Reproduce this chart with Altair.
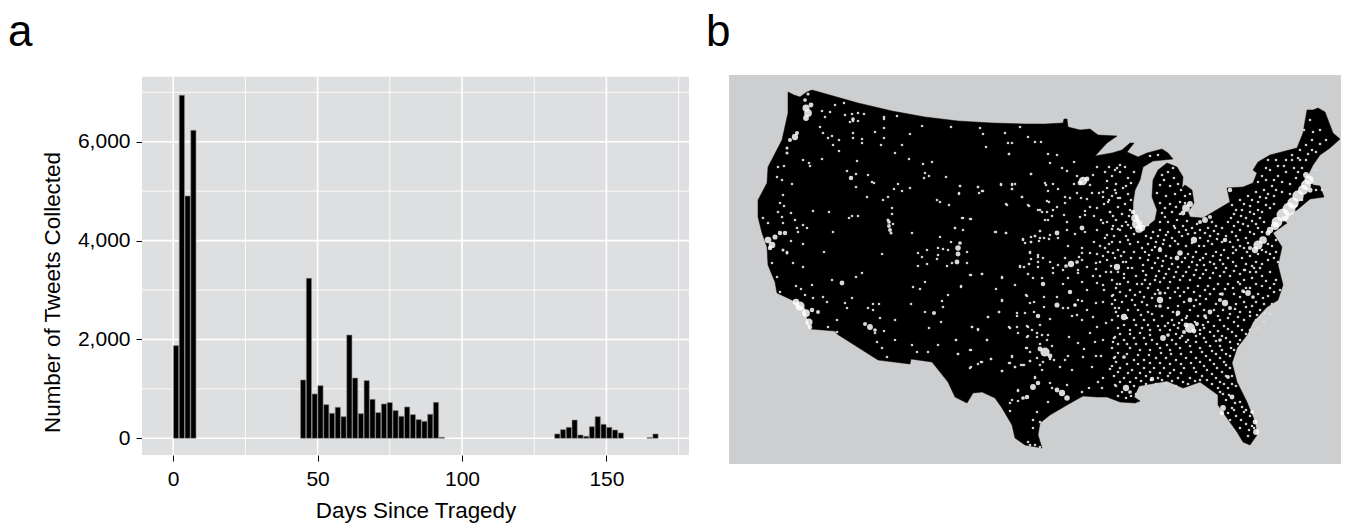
import altair as alt
import pandas as pd

FONT = "Liberation Sans"

# ---- panel a: tweets per two-day bin
bin_width = 2
bar_inset = 0.1
bin_start = [0, 2, 4, 6,
             44, 46, 48, 50, 52, 54, 56, 58, 60, 62, 64, 66, 68, 70, 72, 74, 76, 78, 80, 82, 84, 86, 88, 90, 92,
             132, 134, 136, 138, 140, 142, 144, 146, 148, 150, 152, 154, 164, 166]
tweets = [1875, 6939, 4902, 6230,
          1180, 3237, 897, 1065, 681, 506, 627, 438, 2090, 1220, 499, 1167, 789, 519, 695, 722, 560, 445, 634, 479, 378, 344, 486, 728, 20,
          88, 175, 222, 370, 67, 40, 236, 438, 283, 222, 168, 108, 15, 88]
x_major = [0, 50, 100, 150]
x_minor = [25, 75, 125, 175]
y_major = [0, 2000, 4000, 6000]
y_minor = [1000, 3000, 5000, 7000]
x_limits = [-10.8, 178.6]
y_limits = [-338, 7315]

# ---- panel b: outline of the map, in map units
outline = [
    (788,92),(794,95),(800,97),(804,94),(807,92),(812,90),(858,103),(892,111),(925,117),(958,121),(992,123),(1025,124),(1045,124),
    (1063,123),(1064,119),(1067,119),(1068,127),(1080,130),(1090,129),(1098,135),(1117,136),(1107,143),(1095,156),(1112,153),
    (1122,150),(1130,143),(1134,143),(1127,152),(1138,157),(1147,153),(1162,149),(1168,153),(1173,159),(1163,160),(1153,161),
    (1143,167),(1140,180),(1135,190),(1133,203),(1133,213),(1137,225),(1145,228),(1155,220),(1157,210),(1152,197),(1153,180),
    (1158,170),(1167,163),(1177,167),(1183,177),(1182,188),(1178,192),(1185,185),(1192,190),(1194,203),(1188,212),(1190,217),
    (1203,218),(1213,212),(1230,202),(1227,188),(1243,187),(1253,183),(1257,173),(1253,170),(1258,162),(1270,155),(1297,148),
    (1303,133),(1307,110),(1313,110),(1318,108),(1325,112),(1333,133),(1340,139),(1330,148),(1320,155),(1313,165),(1307,177),
    (1313,185),(1320,186),(1324,197),(1310,199),(1297,210),(1280,218),(1287,223),(1273,233),(1282,247),(1278,265),(1283,285),
    (1278,300),(1267,307),(1253,322),(1247,335),(1237,348),(1232,363),(1237,382),(1247,402),(1255,422),(1257,435),(1250,445),
    (1243,442),(1237,432),(1227,418),(1218,405),(1218,395),(1207,387),(1200,382),(1183,388),(1167,381),(1150,384),(1139,386),
    (1134,397),(1140,401),(1135,403),(1120,402),(1107,397),(1097,397),(1083,396),(1067,405),(1050,415),(1040,423),(1038,435),
    (1042,448),(1025,445),(1015,438),(1012,425),(1002,408),(995,398),(982,392),(973,393),(967,403),(955,397),(948,382),(932,362),
    (911,359),(910,364),(878,360),(837,334),(835,331),(811,329),(808,322),(805,308),(792,300),(777,293),(775,282),(768,265),
    (767,247),(762,233),(758,217),(758,200),(767,183),(768,167),(782,140),(788,113),(788,92),
]

west_dots = [
    (825,117),(822,111),(830,112),(835,105),(844,103),(845,115),(852,114),(853,121),(850,122),(858,121),(858,113),(864,114),(884,117),(884,119),(897,116),
    (922,126),(951,127),(980,128),(983,134),(1005,133),(1020,127),(1028,137),(1035,142),(1041,142),(820,127),(823,133),(832,136),(828,138),(833,145),(839,140),
    (839,151),(853,133),(853,138),(862,139),(862,143),(875,132),(884,128),(884,138),(881,145),(902,145),(910,134),(895,153),(909,159),(932,162),(923,164),
    (986,147),(1008,143),(1012,143),(1009,154),(803,160),(809,163),(810,166),(822,159),(857,161),(847,171),(856,174),(856,187),(868,175),(872,182),(874,183),
    (925,173),(929,176),(924,178),(946,177),(898,184),(894,189),(902,191),(910,188),(960,186),(959,194),(978,187),(982,191),(979,193),(1001,185),(1012,185),
    (1012,189),(1031,174),(1022,197),(1007,205),(1028,205),(1038,210),(1042,212),(778,167),(784,166),(777,177),(782,180),(792,184),(783,195),(780,203),(784,206),
    (778,212),(782,217),(791,213),(795,220),(813,211),(829,212),(867,197),(888,197),(883,200),(937,200),(940,202),(949,205),(892,208),(892,214),(852,216),
    (849,218),(858,216),(962,218),(970,219),(763,218),(768,223),(783,223),(797,228),(803,225),(798,232),(807,228),(833,232),(893,224),(912,233),(955,228),
    (995,232),(1006,233),(1023,239),(1031,242),(1040,231),(1035,236),(1040,238),(803,244),(791,241),(787,252),(824,252),(882,254),(918,253),(922,257),(927,250),
    (938,248),(940,237),(951,242),(943,249),(948,250),(938,255),(937,259),(967,252),(927,264),(918,266),(947,266),(952,263),(967,263),(1020,267),(1029,264),
    (1038,262),(1030,253),(1038,255),(793,263),(803,267),(772,263),
    (777,277),(780,292),(796,286),(801,289),(812,285),(805,295),(813,298),(823,297),(827,302),(832,280),(856,277),(862,273),(852,298),(845,303),(847,308),
    (837,320),(828,327),(837,332),(868,308),(873,304),(879,304),(873,310),(880,318),(895,320),(875,333),(884,331),(877,342),(882,348),(895,340),(887,357),
    (912,345),(917,352),(928,352),(938,345),(925,312),(941,322),(929,328),(911,304),(942,301),(943,307),(948,295),(925,282),(913,287),(920,289),(961,287),
    (972,327),(978,330),(956,340),(971,350),(958,354),(987,340),(981,362),(978,364),(991,359),(971,367),(1002,371),(988,317),(999,312),(1009,327),(1017,316),
    (1027,326),(1027,337),(1037,337),(1027,348),(1012,357),(1009,363),(1015,367),(1023,365),(1030,361),(1035,377),(1002,301),(1015,285),(1027,296),(996,289),
    (1002,278),(970,275),(982,274),(1010,411),(1018,391),(1012,400),(1037,412),(1033,420),(1033,428),(1040,422),(1028,442),(1035,445),(1040,447),(1030,445),
]

central_dots = [
    (1009,154),(1048,154),(1057,155),(1050,163),(1074,162),(1062,168),(1067,171),(1031,174),(1097,167),(1109,167),(1117,168),(960,186),(959,193),(978,187),
    (983,191),(1001,184),(1012,184),(1015,184),(1012,189),(1045,183),(1046,185),(1053,184),(1058,189),(1048,191),(1022,197),(1006,204),(1029,206),(1047,201),
    (1049,202),(1065,203),(1070,198),(1065,197),(1077,193),(1081,198),(1087,199),(1092,193),(1099,193),(1103,192),(1103,197),(1115,190),(1108,202),(1118,198),
    (1090,207),(1097,208),(1085,211),(1057,207),(1053,210),(1040,210),(1047,212),(1052,216),(1048,220),(1045,220),(1064,215),(1085,215),(1094,216),(1110,212),
    (1113,216),(1101,220),(1103,223),(1107,222),(1067,222),(1080,217),(963,218),(971,219),(955,228),(963,230),(996,232),(1006,233),(1040,231),(1050,235),
    (1044,238),(1049,239),(1058,238),(1067,230),(1075,234),(1085,232),(1097,230),(1107,235),(1105,238),(1112,229),(1118,229),(1112,242),(1094,242),(1023,240),
    (1031,237),(1035,236),(1031,242),(1039,241),(1025,243),(1068,246),(1082,248),(1090,253),(1082,253),(1097,254),(1030,252),(1038,257),(1031,259),(1043,258),
    (1050,262),(1038,267),(1029,264),(1020,266),(1024,267),(1028,274),(971,275),(982,274),(1002,277),(1058,265),(1053,268),(1082,260),(1087,267),(1096,263),
    (1096,269),(1078,273),(1068,278),(1093,276),(1033,278),(1042,278),(1053,273),(1107,260),(1113,253),(1105,248),(1118,250),
    (961,286),(1002,300),(1026,295),(988,317),(999,312),(972,327),(978,329),(956,340),(987,340),(970,350),(958,354),(982,362),(991,359),(970,368),(1002,371),
    (1010,328),(1017,313),(1025,313),(1030,303),(1034,302),(1034,312),(1044,307),(1044,297),(1050,319),(1017,327),(1018,333),(1028,327),(1032,330),(1028,336),
    (1040,325),(1037,333),(1042,335),(1048,335),(1047,340),(1026,348),(1012,356),(1010,363),(1015,367),(1021,365),(1024,365),(1030,361),(1050,359),(1040,365),
    (1042,370),(1060,367),(1069,337),(1078,343),(1084,349),(1065,360),(1068,356),(1083,357),(1072,370),(1092,367),(1110,369),(1096,356),(1101,356),(1095,342),
    (1103,340),(1113,342),(1090,333),(1097,327),(1093,317),(1106,323),(1115,337),(1115,357),(1063,308),(1068,308),(1077,315),(1082,320),(1087,310),(1072,316),
    (1103,302),(1096,303),(1087,290),(1063,284),(1078,300),(1075,305),(1082,301),(1057,297),(1082,282),(1113,295),(1115,308),(1097,283),(1103,285),(1117,284),
    (1018,390),(1018,401),(1010,403),(1035,378),(1050,383),(1052,388),(1067,385),(1082,392),(1089,388),(1103,378),(1098,382),(1115,385),(1102,388),(1048,402),
]

northeast_dots = [
    (1150,156),(1158,155),(1120,165),(1105,172),(1112,176),(1120,172),(1128,178),(1116,184),(1123,188),(1131,183),(1107,188),(1112,196),(1120,198),(1128,194),
    (1104,204),(1118,207),(1125,204),(1131,200),(1110,212),(1122,214),(1130,210),(1116,220),(1126,222),(1162,175),(1168,172),(1174,178),(1160,185),(1170,186),
    (1178,184),(1157,193),(1166,196),(1175,194),(1160,203),(1170,204),(1180,202),(1185,196),(1190,194),(1162,213),(1172,212),(1180,214),(1160,222),(1168,222),
    (1177,220),(1192,214),(1146,236),(1153,232),(1160,230),(1168,232),(1175,228),(1183,226),(1192,228),(1200,230),(1208,228),(1216,226),(1148,244),(1156,242),
    (1164,240),(1172,238),(1182,236),(1188,234),(1200,238),(1210,236),(1218,234),(1145,252),(1152,250),(1160,248),(1170,246),(1178,244),(1186,246),(1204,246),
    (1212,244),(1222,242),(1148,260),(1158,258),(1166,256),(1188,254),(1196,252),(1206,254),(1216,252),(1224,250),(1152,268),(1162,266),(1172,264),(1182,262),
    (1192,262),(1200,260),(1210,262),(1220,260),(1228,258),(1146,275),(1156,276),(1166,274),(1176,272),(1186,272),(1196,270),(1206,270),(1216,268),(1226,268),
    (1236,266),(1142,284),(1150,284),(1160,282),(1170,282),(1180,280),(1190,280),(1200,278),(1210,278),(1220,276),(1230,276),(1240,274),(1250,272),(1260,268),
    (1120,230),(1126,236),(1134,234),(1120,242),(1130,244),(1138,242),(1124,252),(1134,252),(1140,258),(1126,262),(1132,268),(1124,274),(1136,276),(1100,246),
    (1108,252),(1100,262),(1106,272),(1100,276),(1112,280),(1120,284),(1128,282),(1104,290),(1232,205),(1240,200),(1248,196),(1256,192),(1264,190),(1272,186),
    (1262,176),(1270,170),(1278,166),(1286,160),(1268,160),(1278,176),(1286,172),(1294,168),(1300,160),(1296,178),(1290,184),(1234,214),(1242,210),(1250,206),
    (1258,202),(1266,198),(1274,196),(1282,192),(1290,194),(1228,222),(1238,222),(1246,218),(1254,214),(1262,212),(1270,208),(1232,232),(1240,230),(1248,226),
    (1256,224),(1264,222),(1230,242),(1238,240),(1246,238),(1254,234),(1262,232),(1236,250),(1244,248),(1242,258),(1250,256),(1258,254),(1266,252),(1272,246),
    (1276,240),(1268,260),(1274,258),(1246,264),(1256,262),(1244,280),(1252,278),(1262,276),(1270,272),(1276,280),(1270,288),(1280,290),(1262,286),(1250,288),
    (1240,284),(1304,130),(1312,140),(1320,144),(1312,150),(1300,150),(1292,155),(1306,160),(1316,170),(1322,190),(1316,190),(1302,200),(1296,206),
]

southeast_dots = [
    (1112,296),(1120,292),(1130,290),(1140,292),(1148,288),(1158,290),(1168,288),(1178,288),(1188,288),(1198,286),(1208,286),(1218,284),(1228,284),(1238,282),
    (1112,304),(1122,302),(1132,300),(1142,302),(1152,298),(1170,298),(1180,296),(1200,296),(1210,294),(1220,294),(1234,294),(1258,294),(1268,296),
    (1116,312),(1128,310),(1138,310),(1148,312),(1168,308),(1178,306),(1190,310),(1200,304),(1216,304),(1236,304),(1244,302),(1256,302),(1264,304),(1272,304),
    (1112,320),(1134,320),(1144,320),(1154,320),(1162,316),(1172,320),(1182,320),(1198,316),(1206,318),(1218,316),(1230,314),(1240,312),(1250,312),(1260,310),(1270,314),
    (1118,328),(1130,330),(1142,328),(1150,330),(1158,326),(1170,330),(1178,328),(1204,328),(1214,326),(1224,326),(1234,322),(1244,320),(1256,320),(1264,322),
    (1114,338),(1124,340),(1134,338),(1144,338),(1152,340),(1172,340),(1180,338),(1204,338),(1214,336),(1222,336),(1232,332),(1242,330),(1250,330),(1258,328),
    (1112,348),(1130,348),(1140,350),(1150,350),(1160,348),(1170,350),(1180,348),(1190,346),(1200,348),(1210,346),(1220,346),(1230,342),(1240,340),(1246,334),
    (1114,358),(1134,360),(1144,360),(1156,358),(1166,358),(1176,360),(1186,358),(1196,358),(1206,356),(1216,354),(1226,354),(1234,350),(1238,344),
    (1112,366),(1120,368),(1132,370),(1144,368),(1154,368),(1164,368),(1174,370),(1184,368),(1194,368),(1204,366),(1214,364),(1224,362),(1230,356),
    (1114,376),(1124,378),(1136,378),(1146,376),(1158,378),(1168,376),(1178,378),(1190,378),(1202,376),(1212,374),(1222,372),(1230,368),
    (1116,386),(1134,386),(1146,384),(1156,384),(1166,384),(1176,386),(1188,384),(1200,380),(1212,384),(1220,382),(1232,376),
    (1118,396),(1126,398),(1136,394),(1220,392),(1228,388),(1236,386),(1226,400),(1232,408),(1240,402),(1236,416),(1244,412),(1230,420),(1246,424),(1240,428),(1250,416),(1252,426),(1248,436),
]

# a second, irregular pass over the dense eastern half
infill_dots = [
    (1107,181),(1115,170),(1125,167),(1134,172),(1109,200),(1116,193),(1126,186),(1113,226),(1122,226),(1129,216),(1164,180),(1173,168),(1181,190),(1165,208),(1176,207),
    (1185,203),(1165,217),(1174,226),(1187,221),(1197,224),(1212,222),(1151,238),(1158,236),(1166,235),(1179,232),(1186,230),(1195,233),(1205,233),(1214,231),(1222,228),
    (1142,248),(1149,255),(1155,247),(1163,244),(1175,241),(1192,243),(1199,246),(1208,241),(1217,239),(1226,236),(1143,265),(1155,263),(1163,261),(1171,258),(1185,258),
    (1193,257),(1203,258),(1213,256),(1221,255),(1233,253),(1143,271),(1159,271),(1169,269),(1178,267),(1189,267),(1197,265),(1204,265),(1214,264),(1223,264),(1233,262),
    (1145,280),(1155,280),(1164,278),(1174,277),(1183,276),(1194,275),(1203,274),(1213,273),(1224,272),(1234,271),(1245,270),(1254,268),(1103,256),(1115,258),(1111,266),
    (1121,256),(1118,272),(1128,268),(1116,288),(1124,278),(1137,284),(1131,258),(1128,240),(1114,236),(1109,244),(1236,210),(1244,204),(1252,200),(1260,197),(1268,194),
    (1276,190),(1258,182),(1266,180),(1274,180),(1282,182),(1266,168),(1276,160),(1284,166),(1292,160),(1298,172),(1302,168),(1231,218),(1241,216),(1250,212),(1258,210),
    (1266,205),(1274,204),(1234,226),(1243,224),(1252,221),(1260,218),(1236,236),(1250,232),(1258,228),(1233,247),(1240,246),(1248,243),(1247,252),(1262,250),(1268,244),
    (1270,254),(1276,252),(1278,262),(1252,266),(1262,264),(1244,270),(1256,272),(1266,281),(1256,284),(1246,288),(1274,292),(1274,284),(1306,145),(1316,152),(1298,158),
    (1313,132),(1320,130),(1310,120),(1308,154),(1326,140),(1115,300),(1126,296),(1135,295),(1144,297),(1155,294),(1165,293),(1175,292),(1184,292),(1194,292),(1205,290),
    (1214,289),(1225,289),(1233,288),(1244,292),(1119,308),(1135,305),(1147,305),(1156,306),(1173,312),(1184,302),(1196,300),(1206,299),(1214,310),(1240,297),(1252,306),
    (1263,298),(1118,316),(1127,318),(1141,315),(1152,314),(1168,323),(1177,315),(1187,316),(1194,306),(1204,310),(1223,310),(1235,309),(1246,307),(1257,315),(1265,313),
    (1124,325),(1136,325),(1148,325),(1165,326),(1174,325),(1208,322),(1220,320),(1228,318),(1238,317),(1250,316),(1120,334),(1130,334),(1140,333),(1150,335),(1160,330),
    (1176,334),(1200,334),(1210,332),(1218,331),(1228,329),(1238,326),(1118,344),(1127,344),(1136,344),(1146,344),(1157,344),(1167,345),(1176,344),(1186,342),(1196,342),
    (1206,342),(1216,341),(1226,338),(1236,336),(1118,353),(1127,354),(1138,355),(1149,355),(1161,353),(1171,354),(1181,354),(1191,352),(1202,352),(1212,351),(1222,350),
    (1231,348),(1116,362),(1127,364),(1138,364),(1150,363),(1160,363),(1170,364),(1181,364),(1191,363),(1200,362),(1210,360),(1220,358),(1118,372),(1128,373),(1140,373),
    (1150,372),(1160,373),(1170,373),(1181,373),(1196,372),(1207,370),(1217,368),(1226,365),(1120,382),(1130,382),(1141,381),(1151,380),(1162,380),(1172,381),(1183,382),
    (1195,381),(1207,380),(1216,378),(1226,376),(1122,392),(1131,396),(1218,388),(1224,384),(1232,384),(1223,394),(1229,395),(1235,403),(1242,407),(1228,413),(1234,410),
    (1241,420),(1249,430),(1254,428),(1246,410),
    (1186,318),(1195,322),(1200,330),(1182,336),(1188,340),(1196,336),(1179,323),(1203,325),(1040,344),(1037,358),(1052,346),(1054,360),(1030,352),(1043,362),(1128,225),
    (1142,222),(1131,228),(1148,225),(1077,176),(1090,185),(1074,184),(1093,175),(1065,258),(1078,270),(1123,262),(1111,272),(1063,270),(1079,257),
]

# city clusters: x, y, weight
hubs = [
    (806,108,50),(808,113,60),(806,118,34),(811,105,24),(805,100,14),(808,94,10),(795,137,40),(790,140,16),(797,133,16),(787,148,10),(787,153,10),(853,119,14),
    (851,178,20),(889,222,14),(889,226,15),(890,230,15),(888,220,10),(891,233,10),(768,240,44),(772,245,44),(775,237,26),(785,233,20),(780,233,20),(770,248,20),
    (783,250,10),(787,253,10),(800,306,85),(806,313,60),(796,302,40),(812,310,20),(818,312,15),(809,322,50),(810,327,20),(842,283,24),(870,327,34),(865,324,16),
    (875,330,14),(934,313,16),(958,248,30),(958,254,24),(957,262,24),(960,243,14),(1045,352,85),(1040,349,24),(1050,356,24),(1033,387,34),(1027,397,20),(1038,383,20),
    (1023,398,14),(1062,393,40),(1067,398,30),(1057,390,24),(1038,316,20),(1057,305,26),(1075,305,14),(1070,292,20),(1043,284,20),(1083,181,70),(1080,183,24),
    (1087,179,24),(1071,264,40),(1066,266,14),(1077,262,14),(1117,267,40),(1057,233,24),(1082,228,24),(1137,224,100),(1135,218,60),(1139,229,60),(1142,228,40),(1133,212,20),
    (1186,208,60),(1190,204,34),(1183,213,24),(1205,220,34),(1210,217,16),(1200,222,16),(1194,240,40),(1180,253,30),(1177,258,24),(1160,250,20),(1230,190,20),(1225,240,20),
    (1258,245,85),(1263,240,60),(1255,250,40),(1268,233,26),(1250,248,16),(1277,222,115),(1283,215,165),(1289,209,165),(1293,203,130),(1298,196,130),(1303,190,100),
    (1306,185,100),(1309,180,85),(1306,175,34),(1310,190,26),(1275,226,65),(1270,230,40),(1190,328,100),(1186,325,24),(1194,331,24),(1184,332,16),(1197,324,16),
    (1225,303,40),(1220,300,16),(1230,308,16),(1248,293,34),(1243,291,14),(1253,297,14),(1160,300,40),(1160,293,14),(1160,306,14),(1124,317,40),(1163,338,34),(1168,335,14),
    (1178,313,24),(1210,312,24),(1205,316,14),(1190,300,24),(1124,357,14),(1126,388,40),(1130,392,14),(1223,408,34),(1222,413,20),(1232,397,24),(1228,377,15),(1152,379,20),
    (1256,432,34),(1255,422,24),(1252,412,14),(1222,294,14),(1220,340,14),
]

bars = pd.DataFrame({"start": bin_start, "tweets": tweets})
bars["left"] = bars["start"] + bar_inset
bars["right"] = bars["start"] + bin_width - bar_inset
bars["base"] = 0
dots = pd.DataFrame(west_dots + central_dots + northeast_dots + southeast_dots + infill_dots, columns=["x", "y"])
hub_df = pd.DataFrame(hubs, columns=["x", "y", "w"])
land = {"type": "Feature", "properties": {},
        "geometry": {"type": "Polygon", "coordinates": [[list(p) for p in outline]]}}

xs = alt.Scale(domain=x_limits, nice=False, zero=False)
ys = alt.Scale(domain=[y_limits[0], 7350], nice=False, zero=False)
x_axis = alt.Axis(values=x_major, format="d", grid=False, title="Days Since Tragedy", labelPadding=7, titlePadding=10)
y_axis = alt.Axis(values=y_major, format=",.0f", grid=False, title="Number of Tweets Collected",
                  labelPadding=6, titlePadding=13, titleY=217)
X = lambda f: alt.X(f, scale=xs, axis=x_axis)
Y = lambda f: alt.Y(f, scale=ys, axis=y_axis)


def vertical(values, width):
    d = pd.DataFrame({"v": values, "lo": y_limits[0], "hi": y_limits[1]})
    return alt.Chart(d).mark_rule(color="white", strokeWidth=width).encode(x=X("v:Q"), y=Y("lo:Q"), y2="hi:Q")


def horizontal(values, width):
    d = pd.DataFrame({"v": values, "lo": x_limits[0], "hi": x_limits[1]})
    return alt.Chart(d).mark_rule(color="white", strokeWidth=width).encode(y=Y("v:Q"), x=X("lo:Q"), x2="hi:Q")


ground = alt.Chart(pd.DataFrame({"x0": [x_limits[0]], "x1": [x_limits[1]], "y0": [y_limits[0]], "y1": [y_limits[1]]})).mark_rect(
    color="#DEDFE1").encode(x=X("x0:Q"), x2="x1:Q", y=Y("y0:Q"), y2="y1:Q")
bar_layer = alt.Chart(bars).mark_bar(color="black", stroke="#8a8a8a", strokeWidth=0.6).encode(
    x=X("left:Q"), x2="right:Q", y=Y("tweets:Q"), y2="base:Q")
panel_a = alt.layer(ground, vertical(x_minor, 0.9), horizontal(y_minor, 0.9),
                    vertical(x_major, 1.6), horizontal(y_major, 1.6), bar_layer).properties(
    width=547, height=380,
    view=alt.ViewBackground(fill=None, stroke=None),
    title=alt.TitleParams("a", anchor="start", frame="group", dx=-134, fontSize=44, font=FONT,
                          fontWeight="normal", color="black", offset=20),
)

proj = alt.Projection(type="identity", scale=1, translate=[-729, -75])
land_layer = alt.Chart(alt.Data(values=[land], format=alt.DataFormat(type="json"))).mark_geoshape(
    fill="black", stroke="black", strokeWidth=0.5)
hub_layer = alt.Chart(hub_df).mark_circle(color="white", opacity=0.85).encode(
    longitude="x:Q", latitude="y:Q", size=alt.Size("w:Q", scale=None, legend=None))
dot_layer = alt.Chart(dots).mark_circle(color="#dcdcdc", opacity=0.95, size=7).encode(
    longitude="x:Q", latitude="y:Q")
panel_b = alt.layer(land_layer, dot_layer, hub_layer).properties(
    width=612, height=389, projection=proj,
    view=alt.ViewBackground(fill="#CDCED0", stroke=None),
    title=alt.TitleParams("b", anchor="start", frame="group", dx=-23, fontSize=44, font=FONT,
                          fontWeight="normal", color="black", offset=20),
)

chart = alt.hconcat(panel_a, panel_b, spacing=16).resolve_scale(x="independent", y="independent").properties(
    padding={"left": 0, "top": 3, "right": 0, "bottom": 6},
).configure_axis(
    labelFont=FONT, titleFont=FONT, labelFontSize=21, titleFontSize=22.4, titleFontWeight="normal",
    labelColor="black", titleColor="black", tickColor="black", tickSize=6, tickWidth=1, domain=False,
).configure_title(fontWeight="normal")

chart.save("out.html", embed_options={"renderer": "svg", "actions": False})
